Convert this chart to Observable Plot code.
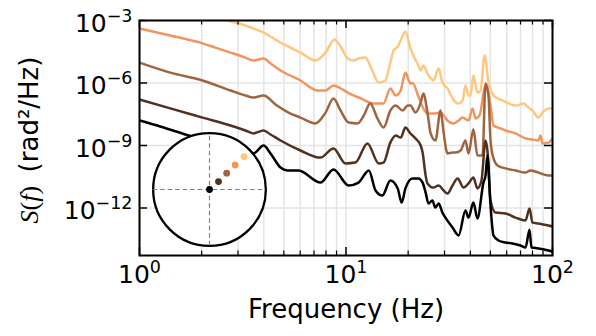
<!DOCTYPE html>
<html><head><meta charset="utf-8">
<script src="https://cdn.jsdelivr.net/npm/d3@7"></script>
<script src="https://cdn.jsdelivr.net/npm/@observablehq/plot@0.6"></script>
<style>
html,body{margin:0;padding:0;background:#fff;overflow:hidden;}
#wrap{position:relative;width:596px;height:336px;}
#inset{position:absolute;left:149px;top:129px;width:120px;height:120px;}
</style></head>
<body><div id="wrap"><div id="main"></div><div id="inset"></div></div>
<script>
// ---- data: [frequency (Hz), log10 S(f) (rad²/Hz)] ----
const seriesColors = ["#000000", "#50321f", "#9f6440", "#ef955f", "#ffc77f"];

const series1 = [[1.00,-7.80],[1.26,-8.09],[1.73,-8.52],[2.33,-8.90],[3.26,-9.34],[3.56,-9.38],[3.99,-9.00],[4.31,-9.38],[4.82,-10.06],[5.21,-10.20],[5.89,-10.20],[7.52,-10.78],[8.70,-10.15],[10.3,-10.92],[11.5,-10.78],[12.9,-10.20],[13.9,-11.16],[15.0,-11.40],[16.4,-10.68],[17.8,-11.06],[18.6,-11.74],[19.4,-11.06],[21.0,-10.58],[22.4,-10.58],[23.5,-10.78],[24.3,-11.26],[25.1,-11.78],[26.2,-11.64],[27.1,-11.98],[28.1,-11.78],[29.3,-12.22],[30.3,-12.46],[32.8,-12.94],[35.1,-13.32],[37.9,-12.12],[39.2,-12.46],[41.4,-11.74],[43.3,-12.50],[46.3,-10.78],[47.4,-10.44],[48.4,-9.48],[50.1,-11.88],[51.8,-13.32],[54.8,-13.56],[59.2,-13.66],[64.0,-13.70],[70.0,-13.80],[74.0,-13.90],[77.4,-13.05],[79.1,-13.90],[85.5,-13.94],[95.6,-14.04],[100,-14.09]];

const series2 = [[1.00,-6.79],[1.41,-7.22],[2.02,-7.66],[2.76,-8.04],[3.26,-8.28],[3.56,-8.42],[3.99,-8.28],[4.31,-8.47],[4.82,-8.76],[6.02,-9.24],[7.52,-9.58],[8.70,-9.14],[9.94,-9.86],[11.1,-9.82],[12.7,-8.90],[14.4,-9.86],[15.2,-9.82],[16.4,-8.86],[17.4,-8.52],[18.4,-8.62],[19.4,-8.14],[20.5,-8.42],[21.7,-8.66],[23.0,-9.00],[23.5,-9.34],[24.3,-10.44],[24.8,-10.82],[26.5,-11.02],[28.1,-10.92],[29.7,-11.16],[31.0,-11.30],[32.8,-10.92],[34.7,-10.58],[37.1,-11.02],[39.2,-10.82],[41.4,-10.54],[43.3,-11.06],[45.3,-10.68],[47.4,-8.76],[48.4,-9.24],[50.1,-11.64],[53.0,-12.22],[59.2,-12.26],[66.2,-12.46],[74.0,-12.60],[77.4,-12.02],[80.0,-12.70],[85.5,-12.74],[95.6,-12.84],[100,-12.89]];

const series3 = [[1.00,-5.02],[1.41,-5.50],[2.02,-5.88],[2.76,-6.36],[3.26,-6.60],[3.56,-6.70],[3.99,-6.60],[4.56,-7.03],[5.27,-7.42],[6.02,-7.66],[7.12,-7.94],[7.96,-7.42],[8.70,-6.74],[9.41,-7.32],[10.3,-7.90],[11.4,-7.94],[12.2,-7.56],[13.1,-6.98],[14.2,-7.70],[15.2,-8.14],[16.4,-7.32],[17.4,-7.08],[18.8,-7.32],[19.9,-7.08],[20.5,-7.08],[21.7,-7.42],[23.0,-6.94],[23.7,-6.50],[24.8,-7.42],[25.7,-8.42],[27.1,-8.76],[28.7,-7.32],[29.7,-8.38],[31.0,-9.38],[32.8,-9.34],[33.9,-9.34],[35.9,-9.24],[37.9,-8.76],[39.2,-9.38],[41.4,-8.22],[43.3,-9.48],[45.8,-9.48],[47.4,-6.02],[49.0,-6.60],[50.1,-8.76],[51.8,-9.62],[54.2,-9.96],[59.2,-10.10],[66.2,-10.20],[74.0,-10.30],[78.2,-10.20],[85.5,-10.30],[95.6,-10.44],[100,-10.44]];

const series4 = [[1.00,-3.38],[1.41,-3.72],[2.02,-4.10],[2.33,-4.30],[2.76,-4.54],[3.26,-4.78],[3.56,-4.92],[3.99,-4.82],[4.31,-5.06],[4.82,-5.40],[6.02,-5.88],[7.28,-6.36],[7.96,-6.36],[8.70,-6.12],[9.41,-6.26],[10.2,-6.46],[11.8,-6.74],[13.6,-6.98],[15.2,-6.98],[16.4,-6.26],[17.4,-6.60],[18.4,-6.36],[19.4,-5.50],[20.5,-6.02],[21.0,-6.00],[22.4,-6.64],[23.7,-7.22],[24.8,-7.46],[25.7,-7.46],[27.1,-7.46],[28.7,-7.42],[29.7,-7.56],[31.0,-7.80],[33.2,-7.94],[35.1,-7.80],[36.7,-7.66],[39.2,-7.80],[41.0,-7.22],[42.4,-7.70],[44.3,-7.56],[47.4,-6.12],[50.1,-7.08],[51.8,-8.04],[56.0,-8.18],[59.2,-8.28],[66.2,-8.42],[74.0,-8.66],[80.0,-8.71],[85.5,-8.76],[87.5,-8.52],[89.4,-8.90],[95.6,-8.86],[100,-8.66]];

const series5 = [[1.00,-1.90],[1.58,-2.33],[2.67,-3.00],[3.26,-3.24],[3.77,-3.48],[3.99,-3.58],[4.31,-3.77],[4.82,-4.06],[5.38,-4.30],[6.02,-4.54],[7.12,-4.92],[7.96,-4.54],[8.80,-3.91],[9.41,-4.25],[10.2,-4.82],[10.9,-4.92],[11.5,-4.82],[12.4,-4.78],[13.4,-5.40],[14.4,-5.98],[15.5,-5.88],[16.4,-5.02],[17.0,-4.44],[17.8,-4.25],[18.4,-3.96],[19.4,-3.53],[20.5,-4.34],[21.2,-4.68],[22.4,-5.16],[23.0,-5.40],[23.7,-5.16],[24.8,-5.54],[25.7,-5.78],[26.5,-5.88],[28.1,-5.30],[29.3,-5.98],[31.0,-6.26],[32.8,-6.74],[35.1,-6.98],[36.7,-6.84],[37.9,-6.12],[39.2,-6.60],[40.1,-6.60],[41.4,-5.64],[43.3,-6.46],[44.8,-6.36],[46.9,-4.68],[49.0,-5.98],[51.8,-6.60],[54.2,-6.74],[57.3,-6.84],[61.2,-6.98],[66.2,-7.08],[70.0,-7.03],[72.4,-6.98],[76.5,-7.18],[80.0,-7.32],[85.5,-7.66],[89.4,-7.42],[95.6,-7.22],[100,-7.22]];

// ticks
const xMajor = [1, 10, 100];
const xMinor = [2, 3, 4, 5, 6, 7, 8, 9, 20, 30, 40, 50, 60, 70, 80, 90];
const yMajor = [1e-3, 1e-6, 1e-9, 1e-12];
const yLow = -14.28; // log10 of the bottom of the axis

// inset (unit circle, dots in circle units)
const insetRim = [{x: 0, y: 0, r: 1}];
const insetCross = [0];
const insetDotX = [0, 0.16, 0.305, 0.455, 0.61];
const insetDotY = [0, 0.14, 0.29, 0.435, 0.585];

// ---- build ----
const allSeries = [series1, series2, series3, series4, series5];
const W = 596, H = 336, mL = 139, mR = 44, mT = 20, mB = 81;
const FW = W - mL - mR, FH = H - mT - mB;

const lineMarks = allSeries.map((s, i) => ({
  rows: s.map(([f, v]) => ({f, S: 10 ** v})), color: seriesColors[i]
})).reverse().map(d => Plot.line(d.rows, {x: "f", y: "S", stroke: d.color, strokeWidth: 2.5, strokeLinejoin: "round", curve: "monotone-x", clip: true}));

const tk = {stroke: "black", strokeWidth: 1.5};
const yLabelText = "S(f) (rad²/Hz)";

const main = Plot.plot({
  width: W, height: H,
  marginLeft: mL, marginRight: mR, marginTop: mT, marginBottom: mB,
  style: {fontFamily: "DejaVu Sans", background: "white", color: "black"},
  x: {type: "log", domain: [1, 100]},
  y: {type: "log", domain: [10 ** yLow, 1e-3]},
  marks: [
    Plot.ruleX([...xMajor, ...xMinor], {stroke: "#e4e4e4", strokeWidth: 1.5}),
    Plot.ruleY(yMajor, {stroke: "#e4e4e4", strokeWidth: 1.5}),
    ...lineMarks,
    Plot.ruleX(xMajor, {...tk, insetTop: FH - 8}),
    Plot.ruleX(xMajor, {...tk, insetBottom: FH - 8}),
    Plot.ruleX(xMinor, {...tk, strokeWidth: 1.2, insetTop: FH - 4.5}),
    Plot.ruleX(xMinor, {...tk, strokeWidth: 1.2, insetBottom: FH - 4.5}),
    Plot.ruleY(yMajor, {...tk, insetRight: FW - 8}),
    Plot.ruleY(yMajor, {...tk, insetLeft: FW - 8}),
    Plot.frame({stroke: "black", strokeWidth: 2}),
    Plot.axisX({ticks: xMajor, tickSize: 0, tickPadding: 10, fontSize: 25, label: null, tickFormat: d => String(Math.round(Math.log10(d)))}),
    Plot.axisY({ticks: yMajor, tickSize: 0, tickPadding: 7, fontSize: 25, dy: 3, label: null, tickFormat: d => String(Math.round(Math.log10(d)))}),
    Plot.text(["Frequency (Hz)"], {text: d => d, frameAnchor: "bottom", textAnchor: "middle", dy: 62, fontSize: 26, fill: "black"}),
    Plot.text([yLabelText], {text: d => d, frameAnchor: "left", textAnchor: "middle", rotate: -90, dx: -110, dy: 2, fontSize: 26, fill: "black"})
  ]
});

const NS = "http://www.w3.org/2000/svg";
function sup(t) {
  const e = t.textContent.replace("-", "\u2212");
  t.textContent = "";
  const a = document.createElementNS(NS, "tspan"); a.textContent = "10";
  const b = document.createElementNS(NS, "tspan"); b.textContent = e;
  b.setAttribute("dy", "-10"); b.setAttribute("font-size", "17.5");
  t.append(a, b);
}
main.querySelectorAll('g[aria-label="x-axis tick label"] text, g[aria-label="y-axis tick label"] text').forEach(sup);
main.querySelectorAll("text").forEach(t => {
  if (t.textContent === yLabelText) {
    t.textContent = "";
    t.setAttribute("text-anchor", "middle");
    const parts = [["S", true, true], ["(", false, true], ["f", true, true], [")", false, true], ["\u2009 (rad²/Hz)", false, false]];
    for (const [s, it, serif] of parts) {
      const sp = document.createElementNS(NS, "tspan");
      sp.textContent = s;
      if (serif) sp.setAttribute("font-family", "Liberation Serif");
      if (it) sp.setAttribute("font-style", "italic");
      t.append(sp);
    }
  }
});
document.getElementById("main").append(main);

const insetDots = insetDotX.map((x, i) => ({x, y: insetDotY[i], c: seriesColors[i]}));
const inset = Plot.plot({
  width: 120, height: 120, margin: 0,
  style: {background: "transparent", overflow: "visible"},
  x: {domain: [-1.065, 1.065], axis: null},
  y: {domain: [-1.065, 1.065], axis: null},
  r: {type: "linear", domain: [0, 1.065], range: [0, 60]},
  marks: [
    Plot.dot(insetRim, {x: "x", y: "y", r: "r", fill: "white", stroke: "black", strokeWidth: 2.3}),
    Plot.ruleX(insetCross, {y1: -1, y2: 1, stroke: "#808080", strokeWidth: 1.2, strokeDasharray: "4.5,3"}),
    Plot.ruleY(insetCross, {x1: -1, x2: 1, stroke: "#808080", strokeWidth: 1.2, strokeDasharray: "4.5,3"}),
    Plot.dot(insetDots, {x: "x", y: "y", r: 3.4, fill: d => d.c, stroke: "none"})
  ]
});
document.getElementById("inset").append(inset);
</script>
</body></html>
